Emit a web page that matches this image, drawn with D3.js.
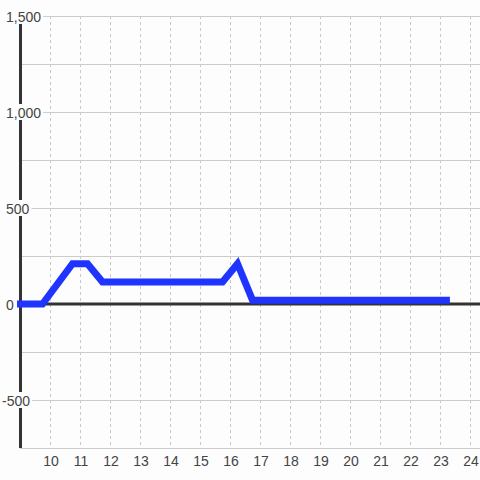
<!DOCTYPE html>
<html><head><meta charset="utf-8">
<script src="https://cdn.jsdelivr.net/npm/d3@7"></script>
<style>html,body{margin:0;padding:0;background:#fdfdfd;}svg{display:block;}</style>
</head><body>
<script>
const times = [8.9, 9.75, 10.75, 11.25, 11.75, 15.75, 16.25, 16.75, 23.33];
const values = [0, 0, 210, 210, 115, 115, 210, 20, 20];
const xTicks = [10,11,12,13,14,15,16,17,18,19,20,21,22,23,24];
const yTicks = [-500, 0, 500, 1000, 1500];
const yGrid = [-750,-500,-250,0,250,500,750,1000,1250,1500];

const W = 480, H = 480;
const x = d3.scaleLinear().domain([9, 24.333]).range([20, 480]);
const y = d3.scaleLinear().domain([-750, 1500]).range([448, 16]);
const svg = d3.select("body").append("svg").attr("width", W).attr("height", H);
svg.append("rect").attr("width", W).attr("height", H).attr("fill", "#fdfdfd");

// vertical dotted grid
svg.append("g").selectAll("line").data(xTicks).join("line")
  .attr("x1", d => x(d) + 0.5).attr("x2", d => x(d) + 0.5)
  .attr("y1", y(1500)).attr("y2", y(-750))
  .attr("stroke", "#c8c8c8").attr("stroke-width", 1).attr("stroke-dasharray", "3,3");
// horizontal grid
svg.append("g").selectAll("line").data(yGrid.filter(d => d !== 0)).join("line")
  .attr("x1", 20).attr("x2", W)
  .attr("y1", d => Math.round(y(d)) + 0.5).attr("y2", d => Math.round(y(d)) + 0.5)
  .attr("stroke", "#cccccc").attr("stroke-width", 1);
// zero line
svg.append("line").attr("x1", 20).attr("x2", W).attr("y1", y(0)).attr("y2", y(0))
  .attr("stroke", "#333").attr("stroke-width", 3);
// y axis line
svg.append("line").attr("x1", 20.5).attr("x2", 20.5).attr("y1", y(1500)).attr("y2", y(-750))
  .attr("stroke", "#333").attr("stroke-width", 3);

// data line
const pts = times.map((t, i) => [t, values[i]]);
svg.append("path").datum(pts)
  .attr("d", d3.line().x(d => x(d[0])).y(d => y(d[1])))
  .attr("fill", "none").attr("stroke", "#1f35ff").attr("stroke-width", 7)
  .attr("stroke-linejoin", "miter");

// y labels with background
const fmt = d => d3.format(",")(d).replace("\u2212", "-");
const yl = svg.append("g").selectAll("g").data(yTicks).join("g");
yl.each(function(d) {
  const g = d3.select(this);
  const t = g.append("text")
    .attr("x", d < 0 ? 2 : 6).attr("y", y(d) + 6)
    .attr("font-family", "Liberation Sans, Arial, sans-serif").attr("font-size", 14)
    .attr("fill", "#444").text(fmt(d));
  const b = t.node().getBBox();
  g.insert("rect", "text").attr("x", b.x - 2).attr("y", y(d) - 8)
    .attr("width", b.width + 4).attr("height", 16).attr("fill", "#fdfdfd");
});

// x labels
svg.append("g").selectAll("text").data(xTicks).join("text")
  .attr("x", d => x(d) + 1).attr("y", 466).attr("text-anchor", "middle")
  .attr("font-family", "Liberation Sans, Arial, sans-serif").attr("font-size", 14)
  .attr("fill", "#444").text(d => d);
</script>
</body></html>
